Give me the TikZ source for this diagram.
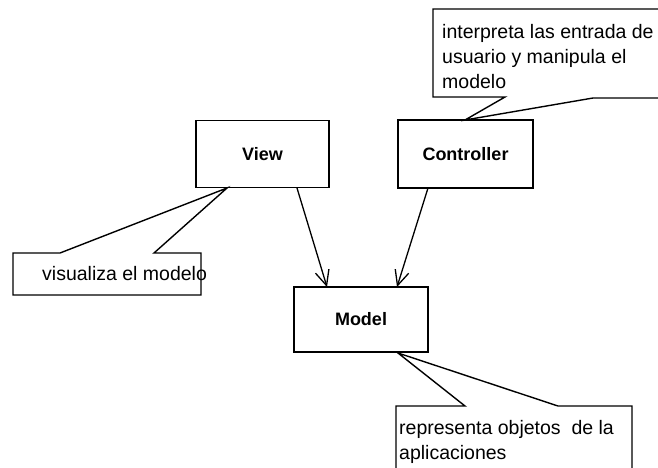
\documentclass[tikz,border=0pt]{standalone}
\usepackage{fontspec}
\setmainfont{Liberation Sans}
\usetikzlibrary{arrows.meta}

\tikzset{
  classbox/.style={draw, line width=1.5pt, fill=white, inner sep=0pt,
    font=\fontsize{18}{22}\selectfont\bfseries},
  notebox/.style={draw, line width=1.4pt, fill=white, line join=miter},
  % anchored at the baseline of the last line of the note
  notetext/.style={anchor=base west, inner sep=0pt, align=left,
    font=\fontsize{19.5}{25}\selectfont},
  assoc/.style={line width=1.3pt, -{Straight Barb[length=15pt,width=14pt,line width=1.3pt]}}
}

\begin{document}
\begin{tikzpicture}[x=1pt, y=-1pt]
  \useasboundingbox (0,0) rectangle (658,467);

  % classes
  \node[classbox, minimum width=133pt, minimum height=67pt] (view) at (262.5,154) {View};
  \node[classbox, minimum width=135pt, minimum height=68pt] (ctrl) at (465.5,154) {Controller};
  \node[classbox, minimum width=134pt, minimum height=65pt] (model) at (361,319.5) {Model};

  % attachment points on the class boxes
  \coordinate (viewA) at (297,188);
  \coordinate (ctrlA) at (428,188);
  \coordinate (modelV) at (327,287);
  \coordinate (modelC) at (397,287);

  % associations
  \draw[assoc] (viewA) -- (modelV);
  \draw[assoc] (ctrlA) -- (modelC);

  % note: controller
  \coordinate (ctrlTip) at (465,120);
  \draw[notebox] (433,9) -- (665,9) -- (665,98) -- (593,98) -- (ctrlTip)
     -- (505,97) -- (433,97) -- cycle;
  \node[notetext] (ctrlNote) at (442,88)
     {interpreta las entrada de\\usuario y manipula el\\modelo};

  % note: view
  \coordinate (viewTip) at (227,188);
  \draw[notebox] (13,253) -- (60,253) -- (viewTip) -- (154,253) -- (201,253)
     -- (201,295) -- (13,295) -- cycle;
  \node[notetext] (viewNote) at (42,280) {visualiza el modelo};

  % note: model
  \coordinate (modelTip) at (398,353);
  \draw[notebox] (396,406) -- (465,406) -- (modelTip) -- (558,406) -- (632,406)
     -- (632,475) -- (396,475) -- cycle;
  \node[notetext] (modelNote) at (399,459)
     {representa objetos\ \ de la\\aplicaciones};
\end{tikzpicture}
\end{document}
